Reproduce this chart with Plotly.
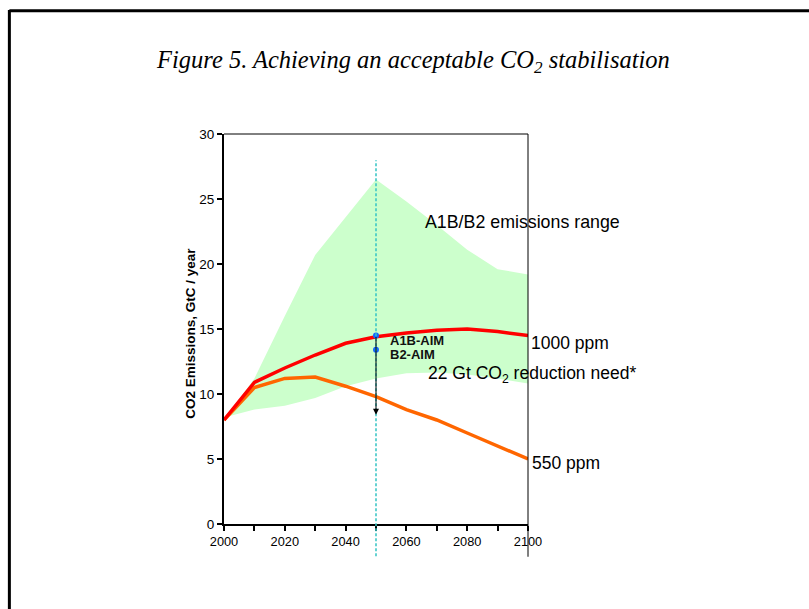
import plotly.graph_objects as go

years = [2000, 2010, 2020, 2030, 2040, 2050, 2060, 2070, 2080, 2090, 2100]
ppm1000 = [8.0, 10.9, 12.0, 13.0, 13.9, 14.4, 14.7, 14.9, 15.0, 14.8, 14.5]
ppm550 = [8.0, 10.5, 11.2, 11.3, 10.6, 9.8, 8.8, 8.0, 7.0, 6.0, 5.0]
range_upper = [8.0, 11.2, 16.0, 20.7, 23.6, 26.5, 24.8, 23.0, 21.1, 19.6, 19.2]
range_lower = [8.2, 8.8, 9.1, 9.7, 10.6, 11.2, 11.6, 11.65, 11.5, 11.2, 10.8]

marker_year = 2050
aim_names = ["A1B-AIM", "B2-AIM"]
aim_values = [14.5, 13.4]
reduction_target = 8.4
yticks = [0, 5, 10, 15, 20, 25, 30]

FONT = "Liberation Sans, Arial, sans-serif"

fig = go.Figure()
fig.add_trace(go.Scatter(x=years, y=range_lower, mode="lines", line=dict(width=0),
                         hoverinfo="skip", showlegend=False))
fig.add_trace(go.Scatter(x=years, y=range_upper, mode="lines", line=dict(width=0),
                         fill="tonexty", fillcolor="#CCFFCC", showlegend=False))
fig.add_trace(go.Scatter(x=years, y=ppm550, mode="lines",
                         line=dict(color="#FF6600", width=3.5), showlegend=False))
fig.add_trace(go.Scatter(x=years, y=ppm1000, mode="lines",
                         line=dict(color="#FF0000", width=3.5), showlegend=False))
fig.add_trace(go.Scatter(x=[marker_year] * len(aim_values), y=aim_values, mode="markers",
                         marker=dict(color="#1166FF", size=6), showlegend=False))

shapes = [
    dict(type="line", xref="x", yref="paper", x0=marker_year, x1=marker_year,
         y0=-0.083, y1=0.933, line=dict(color="#33C4C4", width=1.5, dash="3px,2px"),
         layer="above"),
    dict(type="line", xref="paper", yref="paper", x0=1, x1=1, y0=-0.084, y1=1,
         line=dict(color="black", width=1), layer="above"),
    dict(type="line", xref="paper", yref="paper", x0=0, x1=1, y0=1, y1=1,
         line=dict(color="black", width=1), layer="above"),
    dict(type="line", xref="paper", yref="paper", x0=-0.706, x1=2.0, y0=1.316, y1=1.316,
         line=dict(color="black", width=3)),
    dict(type="line", xref="paper", yref="paper", x0=-0.706, x1=-0.706, y0=1.318, y1=-1.0,
         line=dict(color="black", width=3)),
]

annotations = [
    dict(text="<i>Figure 5. Achieving an acceptable CO<sub>2</sub> stabilisation</i>",
         xref="paper", yref="paper", x=0.623, y=1.185, showarrow=False,
         font=dict(family="Liberation Serif, Times New Roman, serif", size=24.5, color="black"),
         xanchor="center", yanchor="middle"),
    dict(text="<b>CO2 Emissions, GtC / year</b>", xref="paper", yref="paper",
         x=-0.109, y=0.49, textangle=-90, showarrow=False,
         font=dict(family=FONT, size=13.5, color="black"), xanchor="center", yanchor="middle"),
    dict(text="A1B/B2 emissions range", x=2065.5, y=23.25, showarrow=False,
         xanchor="left", yanchor="middle", font=dict(family=FONT, size=17.8, color="black")),
    dict(text="1000 ppm", xref="paper", yref="y", x=1.003, y=13.95, showarrow=False,
         xanchor="left", yanchor="middle", font=dict(family=FONT, size=17.5, color="black")),
    dict(text="550 ppm", xref="paper", yref="y", x=1.006, y=4.67, showarrow=False,
         xanchor="left", yanchor="middle", font=dict(family=FONT, size=17.5, color="black")),
    dict(text="22 Gt CO<sub>2</sub> reduction need*", x=2066.6, y=11.5, showarrow=False,
         xanchor="left", yanchor="middle", font=dict(family=FONT, size=17.5, color="black")),
    dict(text="<b>" + aim_names[0] + "</b>", x=2053.8, y=14.1, showarrow=False,
         xanchor="left", yanchor="middle", font=dict(family=FONT, size=13, color="#111111")),
    dict(text="<b>" + aim_names[1] + "</b>", x=2053.8, y=13.05, showarrow=False,
         xanchor="left", yanchor="middle", font=dict(family=FONT, size=13, color="#111111")),
    dict(text="", x=marker_year, y=reduction_target, ax=marker_year, ay=aim_values[0],
         xref="x", yref="y", axref="x", ayref="y", showarrow=True,
         arrowhead=2, arrowsize=1.2, arrowwidth=1, arrowcolor="black"),
]

fig.update_layout(
    width=809, height=609,
    margin=dict(l=224, r=281.3, t=134, b=85, pad=0),
    paper_bgcolor="white", plot_bgcolor="white",
    showlegend=False,
    shapes=shapes, annotations=annotations,
    font=dict(family=FONT, color="black"),
    xaxis=dict(range=[2000, 2100], tick0=2000, dtick=20,
               showgrid=False, zeroline=False, showline=True, linecolor="black",
               linewidth=2, ticks="outside", ticklen=5, tickwidth=1.5, tickcolor="black",
               minor=dict(tick0=2000, dtick=10, ticks="outside", ticklen=5, tickwidth=1.5,
                          tickcolor="black", showgrid=False),
               tickfont=dict(family=FONT, size=12.8, color="black")),
    yaxis=dict(range=[0, 30], tickvals=yticks,
               showgrid=False, zeroline=False, showline=True, linecolor="black",
               linewidth=2, ticks="outside", ticklen=5, tickwidth=1.5, tickcolor="black",
               tickfont=dict(family=FONT, size=13.5, color="black")),
)

fig.write_html("out.html", config={"displayModeBar": False},
               post_script="document.body.style.margin='0';document.body.style.overflow='hidden';")
